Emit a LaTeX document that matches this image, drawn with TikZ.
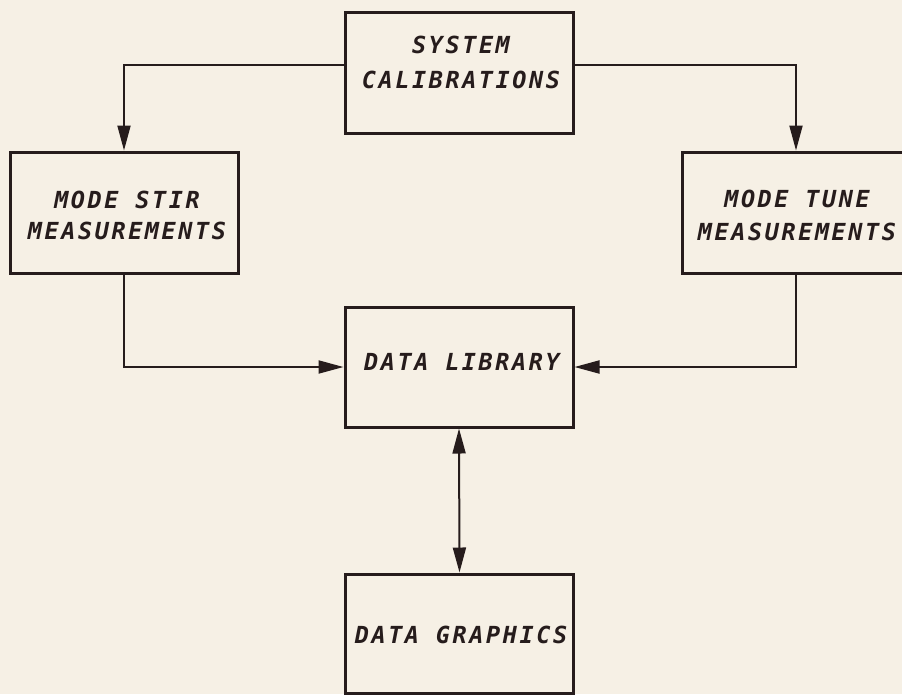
\documentclass[tikz,border=0pt]{standalone}
\usepackage{fontspec}
\newfontfamily\plotfont[LetterSpace=11]{DejaVu Sans Mono}
\usetikzlibrary{arrows.meta}
\definecolor{paper}{RGB}{246,240,229}
\definecolor{ink}{RGB}{38,28,28}
\begin{document}
\begin{tikzpicture}[x=1pt,y=-1pt,
  box/.style={draw=ink, line width=3pt, minimum width=228pt, minimum height=121pt, inner sep=0pt},
  lbl/.style={text=ink, align=center, inner sep=0pt, font=\plotfont\bfseries\itshape\fontsize{23.5}{33}\selectfont},
  conn/.style={draw=ink, line width=2pt, -{Triangle[length=25pt,width=13pt]}},
  dconn/.style={draw=ink, line width=2pt, {Triangle[length=25pt,width=13pt]}-{Triangle[length=25pt,width=13pt]}}]
\fill[paper] (0,0) rectangle (902,694);
\useasboundingbox (0,0) rectangle (902,694);
\clip (0,0) rectangle (902,694);
% boxes
\node[box] (sys) at (459,72.5) {};
\node[box] (stir) at (124,212.5) {};
\node[box] (tune) at (796,212.5) {};
\node[box, minimum height=120pt] (lib) at (459,367) {};
\node[box, minimum height=119pt] (gfx) at (459.5,633.5) {};
% labels
\node[lbl, font=\plotfont\bfseries\itshape\fontsize{23.5}{35}\selectfont] (tsys) at (461,62.5) {SYSTEM\\CALIBRATIONS};
\node[lbl, font=\plotfont\bfseries\itshape\fontsize{23.5}{31}\selectfont] (tstir) at (127,215.5) {MODE STIR\\MEASUREMENTS};
\node[lbl, font=\plotfont\bfseries\itshape\fontsize{23.5}{33}\selectfont] (ttune) at (797,215.5) {MODE TUNE\\MEASUREMENTS};
\node[lbl] (tlib) at (462,362) {DATA LIBRARY};
\node[lbl] (tgfx) at (461,635) {DATA GRAPHICS};
% connectors
\draw[conn] ([yshift=7.5pt]sys.west) -| (stir.north);
\draw[conn] ([yshift=7.5pt]sys.east) -| (tune.north);
\draw[conn] (stir.south) |- (lib.west);
\draw[conn] (tune.south) |- (lib.east);
\draw[dconn] (lib.south) -- (gfx.north);
\end{tikzpicture}
\end{document}
